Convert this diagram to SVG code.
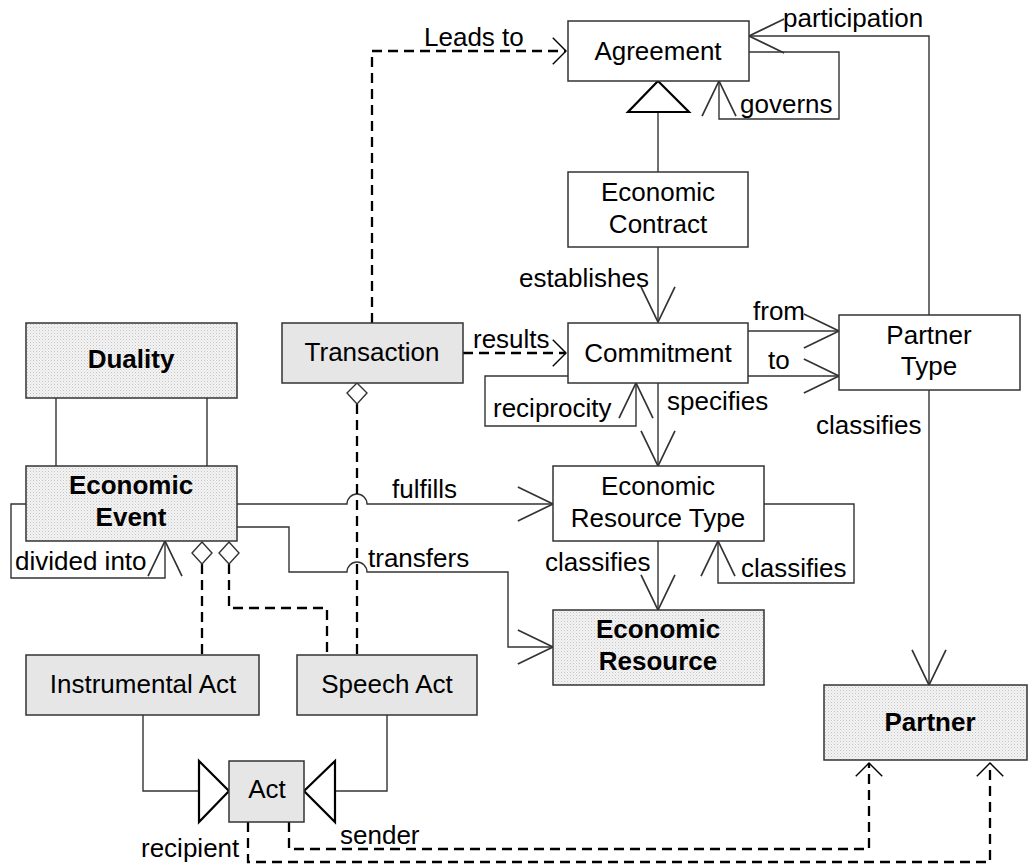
<svg xmlns="http://www.w3.org/2000/svg" width="1029" height="865" viewBox="0 0 1029 865">
  <style>
    .box { stroke: #333; stroke-width: 1.5; fill: #fff; }
    .grey { fill: #e6e6e6; }
    .dot { fill: url(#stipple); }
    .t { font-family: "Liberation Sans", Arial, sans-serif; font-size: 26px; fill: #000; }
    .c { text-anchor: middle; }
    .b { font-weight: bold; }
    .line { fill: none; stroke: #333; stroke-width: 1.4; }
    .dash { fill: none; stroke: #000; stroke-width: 2.3; stroke-dasharray: 10 6; }
    .tri { fill: #fff; stroke: #000; stroke-width: 2.2; stroke-linejoin: miter; }
    .dia { fill: #fff; stroke: #333; stroke-width: 1.4; }
  </style>
  <defs>
    <pattern id="stipple" width="3" height="3" patternUnits="userSpaceOnUse">
      <rect width="3" height="3" fill="#f3f3f3"/>
      <rect width="1" height="1" fill="#c4c4c4"/>
      <rect x="1.5" y="1.5" width="1" height="1" fill="#d8d8d8"/>
    </pattern>
    <marker id="open" markerUnits="userSpaceOnUse" markerWidth="40" markerHeight="40" viewBox="-31 -16 33 32" refX="0" refY="0" orient="auto" overflow="visible">
      <path d="M-29,-14 L0,0 L-29,14" fill="none" stroke="#333" stroke-width="1.4"/>
    </marker>
    <marker id="openDash" markerUnits="userSpaceOnUse" markerWidth="30" markerHeight="30" viewBox="-17 -17 19 34" refX="0" refY="0" orient="auto" overflow="visible">
      <path d="M-15,-15 L0,0 L-15,15" fill="none" stroke="#000" stroke-width="1.6"/>
    </marker>
  </defs>

  <rect width="1029" height="865" fill="#fff"/>

  <!-- connectors -->
  <g id="connectors">
    <!-- Agreement relations -->
    <path class="dash" d="M372,323 V51 H566" marker-end="url(#openDash)"/>
    <path class="line" d="M929,315 V36 H749" marker-end="url(#open)"/>
    <path class="line" d="M749,52 H839 V119 H719 V81" marker-end="url(#open)"/>
    <line class="line" x1="658" y1="112" x2="658" y2="172"/>
    <polygon class="tri" points="658,81 628,112 689,112"/>

    <!-- Commitment relations -->
    <path class="line" d="M658,247 V322" marker-end="url(#open)"/>
    <path class="dash" d="M463,353 H566" marker-end="url(#openDash)"/>
    <path class="line" d="M748,331 H839" marker-end="url(#open)"/>
    <path class="line" d="M748,376 H839" marker-end="url(#open)"/>
    <path class="line" d="M568,376 H485 V426 H636 V383" marker-end="url(#open)"/>
    <path class="line" d="M658,383 V466" marker-end="url(#open)"/>

    <!-- Partner Type classifies Partner -->
    <path class="line" d="M929,390 V685" marker-end="url(#open)"/>

    <!-- Economic Resource Type relations -->
    <path class="line" d="M658,541 V610" marker-end="url(#open)"/>
    <path class="line" d="M764,504 H854 V583 H718 V541" marker-end="url(#open)"/>

    <!-- Duality links -->
    <line class="line" x1="56" y1="398" x2="56" y2="466"/>
    <line class="line" x1="207" y1="398" x2="207" y2="466"/>

    <!-- Economic Event relations (with line hops) -->
    <path class="line" d="M26,504 H11 V578 H165 V541" marker-end="url(#open)"/>
    <path class="line" d="M237,504 H347 A10,10 0 0 1 367,504 H553" marker-end="url(#open)"/>
    <path class="line" d="M237,527 H289 V572 H347 A10,10 0 0 1 367,572 H508 V647 H553" marker-end="url(#open)"/>

    <!-- aggregations -->
    <path class="dash" d="M357,404 V655"/>
    <polygon class="dia" points="357,383 367,393 357,404 347,393"/>
    <path class="dash" d="M202,564 V655"/>
    <polygon class="dia" points="202,542 212,553 202,564 192,553"/>
    <path class="dash" d="M229,564 V608 H327 V655"/>
    <polygon class="dia" points="229,542 239,553 229,564 219,553"/>

    <!-- Act generalizations -->
    <path class="line" d="M143,715 V791 H199"/>
    <polygon class="tri" points="199,761 229,791 199,822"/>
    <path class="line" d="M387,715 V791 H335"/>
    <polygon class="tri" points="335,761 304,791 335,822"/>

    <!-- Act to Partner -->
    <path class="dash" d="M289,822 V849 H869 V763" marker-end="url(#openDash)"/>
    <path class="dash" d="M248,822 V862 H990 V763" marker-end="url(#openDash)"/>
  </g>

  <!-- nodes -->
  <g id="agreement">
    <rect class="box" x="568" y="21" width="181" height="60"/>
    <text class="t c" x="658" y="60">Agreement</text>
  </g>
  <g id="economic-contract">
    <rect class="box" x="568" y="172" width="180" height="75"/>
    <text class="t c" x="658" y="201">Economic</text>
    <text class="t c" x="658" y="233">Contract</text>
  </g>
  <g id="commitment">
    <rect class="box" x="568" y="323" width="180" height="60"/>
    <text class="t c" x="658" y="362">Commitment</text>
  </g>
  <g id="transaction">
    <rect class="box grey" x="282" y="323" width="181" height="60"/>
    <text class="t c" x="372" y="361">Transaction</text>
  </g>
  <g id="partner-type">
    <rect class="box" x="839" y="315" width="181" height="75"/>
    <text class="t c" x="929" y="344">Partner</text>
    <text class="t c" x="929" y="375">Type</text>
  </g>
  <g id="duality">
    <rect class="box dot" x="26" y="323" width="211" height="75"/>
    <text class="t c b" x="131" y="368">Duality</text>
  </g>
  <g id="economic-event">
    <rect class="box dot" x="26" y="466" width="211" height="75"/>
    <text class="t c b" x="131" y="494">Economic</text>
    <text class="t c b" x="131" y="526">Event</text>
  </g>
  <g id="economic-resource-type">
    <rect class="box" x="553" y="466" width="211" height="75"/>
    <text class="t c" x="658" y="495">Economic</text>
    <text class="t c" x="658" y="527">Resource Type</text>
  </g>
  <g id="economic-resource">
    <rect class="box dot" x="553" y="610" width="211" height="75"/>
    <text class="t c b" x="658" y="638">Economic</text>
    <text class="t c b" x="658" y="670">Resource</text>
  </g>
  <g id="instrumental-act">
    <rect class="box grey" x="26" y="655" width="233" height="60"/>
    <text class="t c" x="143" y="693">Instrumental Act</text>
  </g>
  <g id="speech-act">
    <rect class="box grey" x="297" y="655" width="180" height="60"/>
    <text class="t c" x="387" y="693">Speech Act</text>
  </g>
  <g id="act">
    <rect class="box grey" x="229" y="761" width="75" height="61"/>
    <text class="t c" x="267" y="798">Act</text>
  </g>
  <g id="partner">
    <rect class="box dot" x="824" y="685" width="203" height="75"/>
    <text class="t c b" x="930" y="731">Partner</text>
  </g>

  <!-- connector labels -->
  <g id="labels">
    <text class="t" x="424" y="46">Leads to</text>
    <text class="t" x="783" y="27">participation</text>
    <text class="t" x="740" y="113">governs</text>
    <text class="t" x="649" y="287" text-anchor="end">establishes</text>
    <text class="t" x="473" y="348">results</text>
    <text class="t" x="753" y="320">from</text>
    <text class="t" x="768" y="369">to</text>
    <text class="t" x="493" y="417">reciprocity</text>
    <text class="t" x="667" y="410">specifies</text>
    <text class="t" x="816" y="434">classifies</text>
    <text class="t" x="392" y="498">fulfills</text>
    <text class="t" x="368" y="567">transfers</text>
    <text class="t" x="15" y="570">divided into</text>
    <text class="t" x="545" y="571">classifies</text>
    <text class="t" x="741" y="577">classifies</text>
    <text class="t" x="340" y="844">sender</text>
    <text class="t" x="141" y="857">recipient</text>
  </g>
</svg>
